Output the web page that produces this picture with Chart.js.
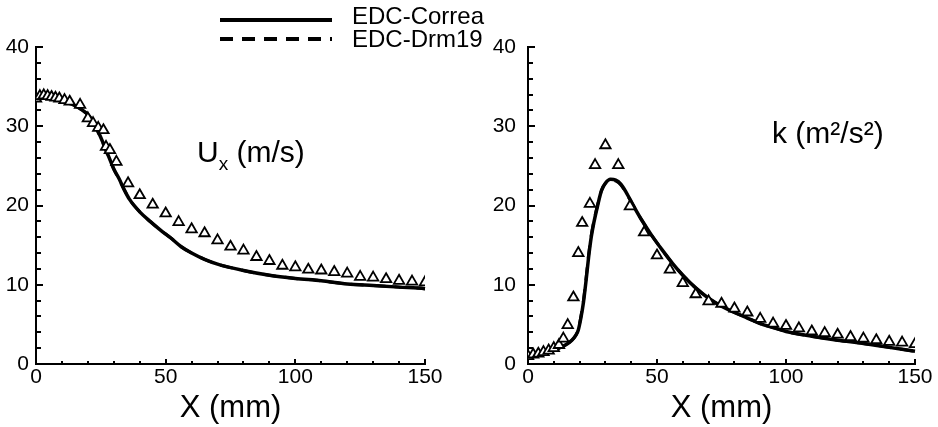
<!DOCTYPE html>
<html>
<head>
<meta charset="utf-8">
<script src="https://cdn.jsdelivr.net/npm/chart.js@4.4.1/dist/chart.umd.min.js"></script>
<style>
  html, body { margin: 0; padding: 0; background: #fff; }
  #wrap { position: relative; width: 938px; height: 427px; overflow: hidden; background: #fff; }
  #wrap canvas { position: absolute; left: 0; top: 0; }
</style>
</head>
<body>
<div id="wrap">
  <canvas id="uxChart" width="938" height="427"></canvas>
  <canvas id="kChart" width="938" height="427"></canvas>
</div>
<script>
// ---- Axial velocity U_x along X (mm) ----
const uxMeasX = [0, 1.5, 3, 4.5, 6, 7.5, 9, 11, 13, 17, 20, 22, 24, 26, 27, 28.5, 31, 35.5, 40, 45, 50, 55, 60, 65, 70, 75, 80, 85, 90, 95, 100, 105, 110, 115, 120, 125, 130, 135, 140, 145, 150];
const uxMeasY = [33.5, 33.8, 33.9, 33.8, 33.7, 33.6, 33.5, 33.3, 33.1, 32.7, 31.0, 30.4, 29.8, 29.5, 27.4, 27.0, 25.5, 22.8, 21.3, 20.1, 19.0, 17.9, 17.0, 16.5, 15.6, 14.8, 14.3, 13.5, 13.0, 12.4, 12.2, 11.9, 11.8, 11.6, 11.4, 11.0, 10.9, 10.7, 10.5, 10.4, 10.3];

const uxCorreaX = [0, 2, 5, 10, 15, 18, 20, 22, 24, 26, 28, 30, 32, 34, 36, 40, 44, 48, 52, 56, 60, 65, 70, 80, 90, 100, 110, 120, 130, 140, 150, 152];
const uxCorreaY = [33.8, 33.8, 33.6, 33.2, 32.6, 32.0, 31.5, 30.6, 29.3, 27.8, 26.2, 24.6, 23.4, 22.0, 20.8, 19.2, 18.0, 16.9, 15.9, 14.8, 14.0, 13.2, 12.6, 11.8, 11.2, 10.8, 10.5, 10.1, 9.9, 9.7, 9.5, 9.4];

const uxDrmX = [0, 2, 5, 10, 15, 18, 20, 22, 24, 26, 28, 30, 32, 34, 36, 40, 44, 48, 52, 56, 60, 65, 70, 80, 90, 100, 110, 120, 130, 140, 150, 152];
const uxDrmY = [33.7, 33.7, 33.5, 33.2, 32.6, 32.0, 31.4, 30.5, 29.2, 27.7, 26.1, 24.6, 23.3, 22.0, 20.8, 19.2, 18.0, 16.9, 15.9, 14.8, 14.0, 13.2, 12.6, 11.8, 11.2, 10.8, 10.5, 10.1, 9.9, 9.7, 9.5, 9.4];

// ---- Turbulent kinetic energy k along X (mm) ----
const kMeasX = [0, 2, 4, 6, 8, 10, 12, 13.7, 15.4, 17.6, 19.5, 21, 24, 26, 30, 35, 39.5, 45, 50, 55, 60, 65, 70, 75, 80, 85, 90, 95, 100, 105, 110, 115, 120, 125, 130, 135, 140, 145, 150];
const kMeasY = [1.0, 1.2, 1.3, 1.5, 1.7, 2.0, 2.4, 3.2, 4.9, 8.4, 14.0, 17.8, 20.2, 25.1, 27.6, 25.1, 19.9, 16.6, 13.7, 11.9, 10.2, 8.8, 7.9, 7.6, 7.0, 6.5, 5.7, 5.1, 4.8, 4.5, 4.1, 3.9, 3.7, 3.4, 3.2, 3.0, 2.8, 2.7, 2.5];

const kCorreaX = [0, 3, 6, 9, 12, 15, 17, 18.5, 19.5, 20.5, 21.5, 22.5, 23.5, 24.5, 25.5, 27, 28.5, 30, 32, 34, 36, 38, 41, 44, 48, 52, 56, 60, 65, 70, 75, 80, 85, 90, 95, 100, 110, 120, 130, 140, 150, 152];
const kCorreaY = [0.8, 1.0, 1.3, 1.6, 2.0, 2.5, 3.0, 3.6, 4.3, 5.8, 7.8, 10.5, 13.5, 16.0, 17.8, 20.0, 21.9, 22.8, 23.3, 23.2, 22.7, 21.7, 19.9, 18.2, 16.2, 14.4, 12.7, 11.2, 9.6, 8.3, 7.3, 6.5, 5.8, 5.1, 4.6, 4.1, 3.5, 3.0, 2.6, 2.1, 1.6, 1.5];

const kDrmX = [0, 3, 6, 9, 12, 15, 17, 18.5, 19.5, 20.5, 21.5, 22.5, 23.5, 24.5, 25.5, 27, 28.5, 30, 32, 34, 36, 38, 41, 44, 48, 52, 56, 60, 65, 70, 75, 80, 85, 90, 95, 100, 110, 120, 130, 140, 150, 152];
const kDrmY = [0.8, 1.0, 1.3, 1.6, 2.0, 2.5, 3.0, 3.6, 4.4, 6.0, 8.0, 10.8, 13.8, 16.2, 18.0, 20.1, 21.9, 22.8, 23.2, 23.1, 22.6, 21.6, 19.9, 18.2, 16.2, 14.4, 12.7, 11.2, 9.6, 8.3, 7.3, 6.5, 5.8, 5.1, 4.6, 4.1, 3.5, 3.0, 2.6, 2.1, 1.6, 1.5];

const yTickValues = [0, 10, 20, 30, 40];
const xTickValues = [0, 50, 100, 150];
const seriesLabels = ['EDC-Correa', 'EDC-Drm19', 'Measured'];

const FONT = "'Liberation Sans', Arial, Helvetica, sans-serif";

const pts = (xs, ys) => xs.map((x, i) => ({ x, y: ys[i] }));

// Small inward tick marks on both axes (majors a little longer)
const inwardTicks = {
  id: 'inwardTicks',
  beforeDatasetsDraw(chart) {
    const { ctx } = chart;
    const xs = chart.scales.x, ys = chart.scales.y;
    ctx.save();
    ctx.strokeStyle = '#000';
    ctx.lineWidth = 2;
    ys.ticks.forEach(t => {
      const py = Math.round(ys.getPixelForValue(t.value));
      const len = yTickValues.includes(t.value) ? 7 : 5;
      ctx.beginPath();
      ctx.moveTo(xs.left, py);
      ctx.lineTo(xs.left + len, py);
      ctx.stroke();
    });
    xs.ticks.forEach(t => {
      const px = Math.round(xs.getPixelForValue(t.value));
      const len = xTickValues.includes(t.value) ? 5 : 3;
      ctx.beginPath();
      ctx.moveTo(px, ys.bottom);
      ctx.lineTo(px, ys.bottom - len);
      ctx.stroke();
    });
    ctx.restore();
  }
};

// Quantity label drawn inside the plot area
const quantityLabel = {
  id: 'quantityLabel',
  afterDatasetsDraw(chart, args, opts) {
    if (!opts.parts) return;
    const { ctx } = chart;
    ctx.save();
    ctx.fillStyle = '#000';
    ctx.textBaseline = 'alphabetic';
    ctx.textAlign = 'left';
    let x = opts.x;
    opts.parts.forEach(p => {
      ctx.font = p.size + 'px ' + FONT;
      ctx.fillText(p.text, x, opts.y + (p.dy || 0));
      x += ctx.measureText(p.text).width + (p.gap || 0);
    });
    ctx.restore();
  }
};

// Line-style key for the simulation series
const lineKey = {
  id: 'lineKey',
  afterDraw(chart, args, opts) {
    if (!opts.rows) return;
    const { ctx } = chart;
    const sets = chart.data.datasets.filter(d => d.inKey);
    ctx.save();
    sets.forEach((d, i) => {
      const row = opts.rows[i];
      ctx.strokeStyle = '#000';
      ctx.lineWidth = opts.lineWidth;
      ctx.setLineDash(d.keyDash || []);
      ctx.beginPath();
      ctx.moveTo(opts.x, row.line);
      ctx.lineTo(opts.x + opts.len, row.line);
      ctx.stroke();
      ctx.setLineDash([]);
      ctx.fillStyle = '#000';
      ctx.font = opts.size + 'px ' + FONT;
      ctx.textBaseline = 'middle';
      ctx.textAlign = 'left';
      ctx.fillText(d.label, opts.x + opts.len + opts.gap, row.text);
    });
    ctx.restore();
  }
};

function makeChart(id, measX, measY, corX, corY, drmX, drmY, geo, plugOpts) {
  return new Chart(document.getElementById(id), {
    type: 'scatter',
    data: {
      datasets: [
        {
          label: seriesLabels[2],
          data: pts(measX, measY),
          showLine: false,
          pointStyle: 'triangle',
          pointRadius: 6,
          pointBackgroundColor: '#fff',
          pointBorderColor: '#000',
          pointBorderWidth: 1.8,
          order: 0
        },
        {
          label: seriesLabels[0],
          inKey: true,
          data: pts(corX, corY),
          showLine: true,
          borderColor: '#000',
          borderWidth: 3.5,
          pointRadius: 0,
          cubicInterpolationMode: 'monotone',
          clip: false,
          order: 1
        },
        {
          label: seriesLabels[1],
          inKey: true,
          keyDash: [13, 9],
          data: pts(drmX, drmY),
          showLine: true,
          borderColor: '#000',
          borderWidth: 3,
          borderDash: [13, 9],
          pointRadius: 0,
          cubicInterpolationMode: 'monotone',
          clip: false,
          order: 2
        }
      ]
    },
    options: {
      responsive: false,
      animation: false,
      events: [],
      layout: { padding: geo.padding },
      plugins: {
        legend: { display: false },
        tooltip: { enabled: false },
        title: { display: false },
        quantityLabel: plugOpts.label,
        lineKey: plugOpts.key || {}
      },
      scales: {
        x: {
          type: 'linear',
          min: 0, max: 150,
          grid: { display: false, drawTicks: false },
          border: { display: true, color: '#000', width: 2 },
          ticks: {
            stepSize: 10,
            autoSkip: false,
            maxRotation: 0,
            padding: 3,
            color: '#000',
            font: { family: FONT, size: 21, lineHeight: 1 },
            callback: v => (xTickValues.includes(v) ? String(v) : '')
          },
          title: {
            display: true,
            text: 'X (mm)',
            color: '#000',
            font: { family: FONT, size: 31, lineHeight: 1 },
            padding: { top: 0, bottom: 3 }
          },
          afterFit: s => { s.height = 63; }
        },
        y: {
          type: 'linear',
          min: 0, max: 40,
          grid: { display: false, drawTicks: false },
          border: { display: true, color: '#000', width: 2 },
          ticks: {
            stepSize: 2,
            autoSkip: false,
            padding: geo.yPad,
            color: '#000',
            font: { family: FONT, size: 21, lineHeight: 1 },
            callback: v => (yTickValues.includes(v) ? String(v) : '')
          },
          afterFit: s => { s.width = geo.yWidth; }
        }
      }
    },
    plugins: [inwardTicks, quantityLabel, lineKey]
  });
}

makeChart('uxChart', uxMeasX, uxMeasY, uxCorreaX, uxCorreaY, uxDrmX, uxDrmY,
  { padding: { left: 0, top: 47, right: 513, bottom: 0 }, yWidth: 36, yPad: 7 },
  {
    label: {
      x: 197, y: 162,
      parts: [
        { text: 'U', size: 30, gap: 0 },
        { text: 'x', size: 19, dy: 8, gap: 0 },
        { text: ' (m/s)', size: 30 }
      ]
    },
    key: {
      x: 220, len: 112, gap: 20, lineWidth: 4, size: 24,
      rows: [{ line: 20, text: 17 }, { line: 39, text: 40 }]
    }
  });

makeChart('kChart', kMeasX, kMeasY, kCorreaX, kCorreaY, kDrmX, kDrmY,
  { padding: { left: 488, top: 47, right: 23, bottom: 0 }, yWidth: 40, yPad: 12 },
  {
    label: {
      x: 772, y: 143,
      parts: [{ text: 'k (m\u00B2/s\u00B2)', size: 30 }]
    }
  });
</script>
</body>
</html>
